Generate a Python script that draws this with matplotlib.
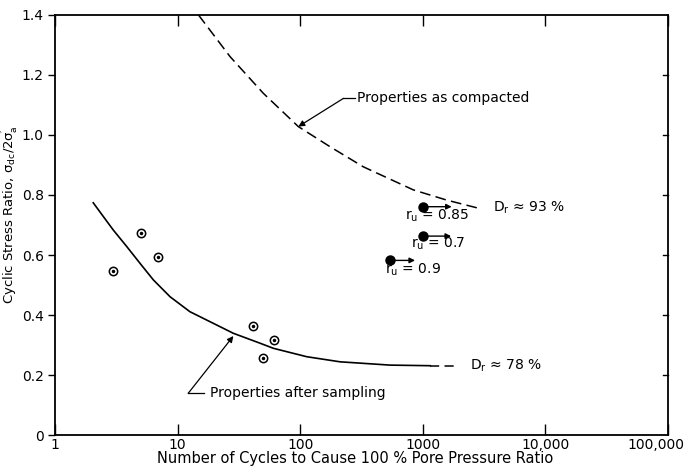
import matplotlib
matplotlib.use("Agg")
import matplotlib.pyplot as plt
import matplotlib.transforms as mtransforms

plt.rcParams['font.family'] = ['DejaVu Sans']
plt.rcParams['mathtext.default'] = 'regular'

# Curve: properties as compacted (dashed), Dr ~ 93 %
comp_N = [14.8, 26.8, 50, 96.5, 175, 327, 837, 1567, 2840]
comp_y = [1.40, 1.261, 1.139, 1.028, 0.961, 0.894, 0.817, 0.783, 0.756]

# Curve: properties after sampling (solid part then dashed extension), Dr ~ 78 %
samp_N = [2.05, 2.48, 2.99, 3.85, 4.94, 6.34, 8.67, 12.6, 19.6, 28.5, 47, 60.4, 113, 211, 540, 1150]
samp_y = [0.774, 0.728, 0.683, 0.628, 0.572, 0.517, 0.461, 0.411, 0.372, 0.339, 0.306, 0.289, 0.261, 0.244, 0.233, 0.231]
samp_ext_N = [1150, 1950]
samp_ext_y = [0.231, 0.231]

# Open data points (after sampling)
open_N = [2.95, 5.03, 6.88, 41.5, 50, 61.1]
open_y = [0.547, 0.674, 0.594, 0.363, 0.258, 0.317]

# Filled data points (as compacted) with arrows
fill_N = [1000, 1000, 540]
fill_y = [0.761, 0.663, 0.582]
fill_arrow_to = [1720, 1700, 864]
fill_labels = ["r$_u$ = 0.85", "r$_u$ = 0.7", "r$_u$ = 0.9"]
fill_label_pos = [(716, 0.731), (802, 0.637), (492, 0.55)]

x_ticks = [1, 10, 100, 1000, 10000, 100000]
x_ticklabels = ["1", "10", "100", "1000", "10,000", "100,000"]
y_ticks = [0, 0.2, 0.4, 0.6, 0.8, 1.0, 1.2, 1.4]
y_ticklabels = ["0", "0.2", "0.4", "0.6", "0.8", "1.0", "1.2", "1.4"]

fig = plt.figure(figsize=(6.86, 4.67), dpi=100)
ax = fig.add_axes([0.0802, 0.0685, 0.8936, 0.8994])
ax.set_xscale('log')
ax.set_xlim(1, 100000)
ax.set_ylim(0, 1.4)

ax.plot(comp_N, comp_y, color='black', lw=1.1, ls=(0, (7, 3.5)))
ax.plot(samp_N, samp_y, color='black', lw=1.2)
ax.plot(samp_ext_N, samp_ext_y, color='black', lw=1.1, ls=(0, (6, 3.5)))

ax.plot(open_N, open_y, ls='none', marker='o', ms=6, mfc='white', mec='black', mew=1.1)
ax.plot(open_N, open_y, ls='none', marker='o', ms=1.5, mfc='black', mec='black')

ax.plot(fill_N, fill_y, ls='none', marker='o', ms=6.5, mfc='black', mec='black')
for n, y, n2, lab, pos in zip(fill_N, fill_y, fill_arrow_to, fill_labels, fill_label_pos):
    ax.annotate('', xy=(n2, y), xytext=(n, y),
                arrowprops=dict(arrowstyle='-|>', color='black', lw=1.0,
                                mutation_scale=8, shrinkA=0, shrinkB=0))
    ax.text(pos[0], pos[1], lab, fontsize=10, ha='left', va='center')

ax.text(3715, 0.756, "D$_r$ ≈ 93 %", fontsize=10, ha='left', va='center')
ax.text(2425, 0.231, "D$_r$ ≈ 78 %", fontsize=10, ha='left', va='center')

# Annotations
ax.annotate('', xy=(96.5, 1.028), xytext=(225, 1.122),
            arrowprops=dict(arrowstyle='-|>', color='black', lw=0.9,
                            mutation_scale=9, shrinkA=0, shrinkB=0))
ax.plot([225, 280], [1.122, 1.122], color='black', lw=0.9)
ax.text(290, 1.122, "Properties as compacted", fontsize=10, ha='left', va='center')

ax.annotate('', xy=(28.5, 0.33), xytext=(12.2, 0.139),
            arrowprops=dict(arrowstyle='-|>', color='black', lw=0.9,
                            mutation_scale=9, shrinkA=0, shrinkB=0))
ax.plot([12.2, 16.5], [0.139, 0.139], color='black', lw=0.9)
ax.text(18.4, 0.139, "Properties after sampling", fontsize=10, ha='left', va='center')

ax.set_xticks(x_ticks)
ax.set_xticklabels(x_ticklabels, fontsize=10)
ax.minorticks_off()
ax.set_yticks(y_ticks)
ax.set_yticklabels(y_ticklabels, fontsize=10)
ax.tick_params(axis='x', direction='in', length=8, width=1, top=True, pad=2)
ax.tick_params(axis='y', direction='out', length=5, width=1, right=False, pad=3)
# right axis inward ticks
for y in y_ticks[1:-1]:
    ax.plot([1, 0.992], [y, y], transform=ax.get_yaxis_transform(), color='black', lw=1, clip_on=False)
for sp in ax.spines.values():
    sp.set_linewidth(1.3)

ax.set_xlabel("Number of Cycles to Cause 100 % Pore Pressure Ratio", fontsize=10.5)
ax.xaxis.set_label_coords(0.49, -0.038)
ax.set_ylabel(r"Cyclic Stress Ratio, $\sigma_{dc}/2\sigma_a^{\prime}$", fontsize=9.5)
ax.yaxis.set_label_coords(-0.055, 0.524)

# shift last x tick label so it stays inside the figure
fig.canvas.draw()
lbl = ax.get_xticklabels()[-1]
lbl.set_horizontalalignment('right')
lbl.set_transform(lbl.get_transform() + mtransforms.ScaledTranslation(16/100, 0, fig.dpi_scale_trans))

fig.savefig("out.png", dpi=100)
